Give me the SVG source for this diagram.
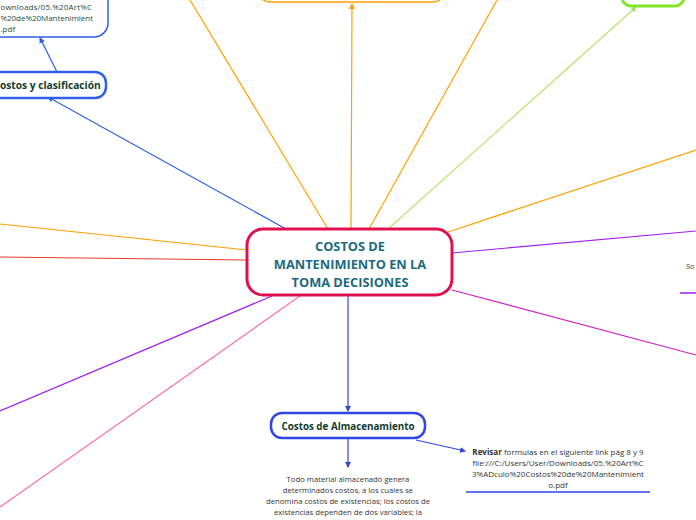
<svg xmlns="http://www.w3.org/2000/svg" width="696" height="520" viewBox="0 0 696 520">
<defs>
<style>
.t{font-family:"Open Sans","Noto Sans","DejaVu Sans",sans-serif}
.b{font-weight:bold}
.ln{fill:none}
.body{font-size:7.7px;fill:#333;text-anchor:middle}
</style>
<marker id="ab" viewBox="0 0 6 6" refX="5" refY="3" markerWidth="6" markerHeight="6" orient="auto" markerUnits="userSpaceOnUse"><path d="M0,0 L6,3 L0,6 z" fill="#2f45e6"/></marker>
<marker id="ablue" viewBox="0 0 6 6" refX="5" refY="3" markerWidth="6" markerHeight="6" orient="auto" markerUnits="userSpaceOnUse"><path d="M0,0 L6,3 L0,6 z" fill="#2f5fe8"/></marker>
<marker id="aor" viewBox="0 0 6 6" refX="5" refY="3" markerWidth="6" markerHeight="6" orient="auto" markerUnits="userSpaceOnUse"><path d="M0,0 L6,3 L0,6 z" fill="#ffa000"/></marker>
<marker id="agr" viewBox="0 0 6 6" refX="5" refY="3" markerWidth="6" markerHeight="6" orient="auto" markerUnits="userSpaceOnUse"><path d="M0,0 L6,3 L0,6 z" fill="#a8e05a"/></marker>
</defs>
<rect width="696" height="520" fill="#fff"/>
<g id="connectors" class="ln">
<line x1="328" y1="229" x2="190" y2="0" stroke="#ffa000" stroke-width="1.2"/>
<line x1="351" y1="229" x2="352" y2="4" stroke="#ffa000" stroke-width="1.2" marker-end="url(#aor)"/>
<line x1="369" y1="229" x2="497" y2="0" stroke="#ffa000" stroke-width="1.2"/>
<line x1="388" y1="229" x2="636" y2="7" stroke="#b5e66b" stroke-width="1.2" marker-end="url(#agr)"/>
<line x1="448" y1="232" x2="696" y2="150" stroke="#ffa000" stroke-width="1.2"/>
<line x1="452" y1="253" x2="696" y2="231" stroke="#a020f0" stroke-width="1.2"/>
<line x1="452" y1="290" x2="696" y2="355" stroke="#cc1fbf" stroke-width="1.2"/>
<line x1="286" y1="229" x2="48" y2="97" stroke="#2f5fe8" stroke-width="1.2" marker-end="url(#ablue)"/>
<line x1="247" y1="250" x2="0" y2="224" stroke="#ffa000" stroke-width="1.2"/>
<line x1="247" y1="260" x2="0" y2="257" stroke="#e8382a" stroke-width="1.2"/>
<line x1="272" y1="296" x2="0" y2="411" stroke="#a020f0" stroke-width="1.2"/>
<line x1="300" y1="296" x2="0" y2="507" stroke="#ff6fa8" stroke-width="1.2"/>
<line x1="57" y1="72" x2="40" y2="38" stroke="#2f5fe8" stroke-width="1.2" marker-end="url(#ablue)"/>
<line x1="348" y1="295" x2="348" y2="411" stroke="#2f45e6" stroke-width="1.2" marker-end="url(#ab)"/>
<line x1="348" y1="439" x2="348" y2="467" stroke="#2f45e6" stroke-width="1.2" marker-end="url(#ab)"/>
<line x1="416" y1="440" x2="465" y2="451" stroke="#2f45e6" stroke-width="1.2" marker-end="url(#ab)"/>
</g>
<g id="node-top-orange">
<rect x="258" y="-40" width="187" height="42" rx="12" fill="#fff" stroke="#ffa000" stroke-width="1.5"/>
</g>
<g id="node-top-green">
<rect x="622" y="-30" width="62" height="36" rx="9" fill="#fff" stroke="#80e626" stroke-width="3"/>
</g>
<g id="node-link-topleft">
<rect x="-40" y="-20" width="148" height="57" rx="14" fill="#fff" stroke="#2f5fe8" stroke-width="1.5"/>
<text class="t" font-size="8" fill="#1f4d3a"><tspan x="0.5" y="10" textLength="91.5" lengthAdjust="spacing">ownloads/05.%20Art%C</tspan><tspan x="0.5" y="21" textLength="92.5" lengthAdjust="spacing">%20de%20Mantenimient</tspan><tspan x="0.5" y="32">.pdf</tspan></text>
</g>
<g id="node-costos-clasificacion">
<rect x="-40" y="72" width="146" height="26" rx="11" fill="#fff" stroke="#2f5fe8" stroke-width="2.5"/>
<text class="t b" font-size="10.2" fill="#113d2e" x="0" y="89">ostos y clasificación</text>
</g>
<g id="node-central">
<rect x="247" y="229" width="205" height="66" rx="16" fill="#fff" stroke="#e0104f" stroke-width="3"/>
<text class="t b" font-size="12.8" fill="#1a6a80" text-anchor="middle"><tspan x="350" y="251">COSTOS DE</tspan><tspan x="350" y="269">MANTENIMIENTO EN LA</tspan><tspan x="350" y="287">TOMA DECISIONES</tspan></text>
</g>
<g id="node-right-partial">
<text class="t" font-size="7.5" fill="#444" x="686" y="269">So</text>
<line x1="680" y1="293" x2="696" y2="293" stroke="#a020f0" stroke-width="1.5"/>
</g>
<g id="node-almacenamiento">
<rect x="271" y="413" width="154" height="25" rx="11" fill="#fff" stroke="#2f45e6" stroke-width="2.5"/>
<text class="t b" font-size="9.8" fill="#113d2e" text-anchor="middle" x="348" y="430">Costos de Almacenamiento</text>
</g>
<g id="node-almacenamiento-text">
<text class="t body"><tspan x="348" y="482">Todo material almacenado genera</tspan><tspan x="348" y="493">determinados costos, a los cuales se</tspan><tspan x="348" y="504">denomina costos de existencias; los costos de</tspan><tspan x="348" y="515">existencias dependen de dos variables; la</tspan></text>
</g>
<g id="node-revisar">
<text class="t" font-size="8" fill="#333" text-anchor="middle"><tspan x="558" y="455"><tspan font-weight="bold">Revisar</tspan> formulas en el siguiente link pág 8 y 9</tspan><tspan x="558" y="466">file:///C:/Users/User/Downloads/05.%20Art%C</tspan><tspan x="558" y="477">3%ADculo%20Costos%20de%20Mantenimient</tspan><tspan x="558" y="488">o.pdf</tspan></text>
<line x1="466" y1="492" x2="650" y2="492" stroke="#2f45e6" stroke-width="1.5"/>
</g>
</svg>
